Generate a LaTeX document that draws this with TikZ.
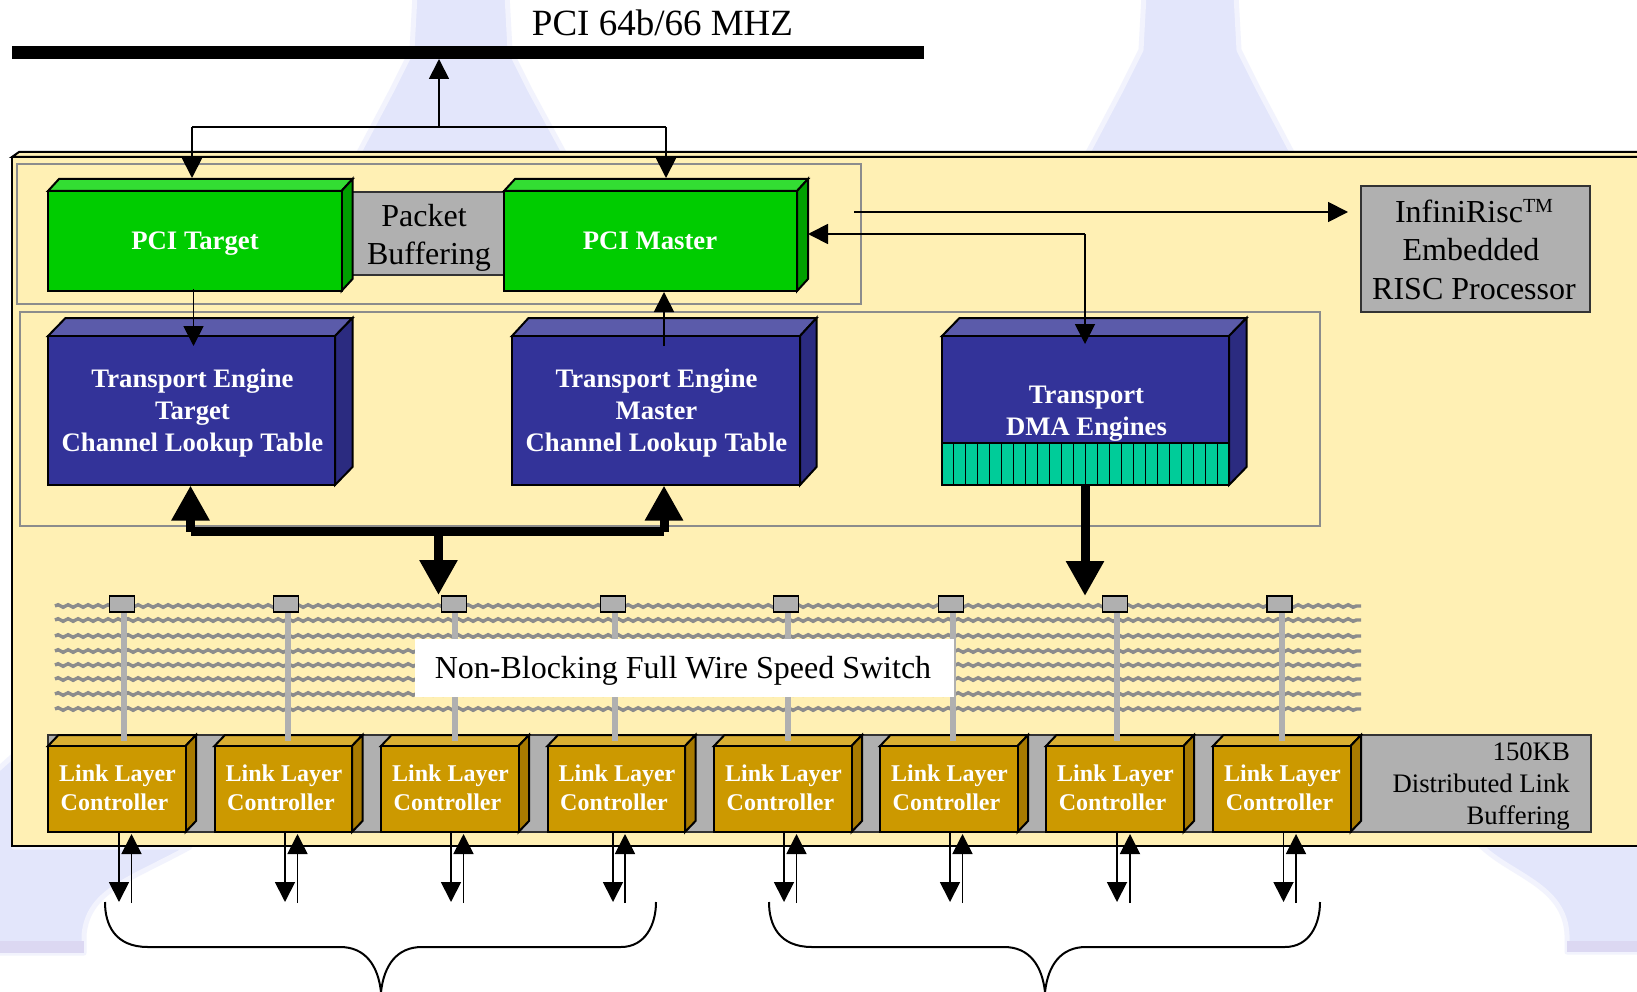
\documentclass[tikz,border=0pt]{standalone}
\usepackage{fontspec}
\setmainfont{Liberation Serif}
\usetikzlibrary{arrows.meta,decorations.pathmorphing,calc}
\definecolor{boardyellow}{HTML}{FFF0B4}
\definecolor{wmark}{HTML}{E3E6FB}
\definecolor{wmarkedge}{HTML}{F2F3FD}
\definecolor{wmarkdark}{HTML}{DCD8F2}
\definecolor{framegray}{HTML}{8C8C8C}
\definecolor{fillgray}{HTML}{B0B0B0}
\definecolor{gfront}{HTML}{00CC00}
\definecolor{gtop}{HTML}{33DD33}
\definecolor{gside}{HTML}{00A000}
\definecolor{bfront}{HTML}{333399}
\definecolor{btop}{HTML}{5B5BAA}
\definecolor{bside}{HTML}{2B2B80}
\definecolor{ofront}{HTML}{CC9900}
\definecolor{otop}{HTML}{D9AE33}
\definecolor{oside}{HTML}{A87A00}
\definecolor{teal}{HTML}{00CC99}
\tikzset{
  frontbox/.style={draw=black,line width=2pt,inner sep=0pt,outer sep=0pt,anchor=north west},
  framebox/.style={draw=framegray,line width=2pt},
  graybox/.style={draw=black!80,line width=2pt,fill=fillgray,inner sep=0pt,outer sep=0pt,anchor=north west},
  plaintext/.style={inner sep=0pt,anchor=base,align=center,font=\fontsize{32}{38.5}\selectfont},
  whitetext/.style={inner sep=0pt,anchor=base,align=center,text=white,font=\fontsize{26.7}{32}\selectfont\bfseries},
  linktext/.style={inner sep=0pt,anchor=base,align=center,text=white,font=\fontsize{24}{29}\selectfont\bfseries},
  thin arrow/.style={line width=1.8pt,-{Triangle[width=20pt,length=20pt]}},
  both line/.style={line width=1.8pt},
  fat arrow/.style={line width=9pt,-{Triangle[width=36pt,length=35pt]}},
  wirecore/.style={draw=framegray!85!white,line width=2.4pt},
  wire/.style={draw=framegray,line width=3.4pt,decorate,decoration={snake,segment length=10pt,amplitude=1.3pt}},
  port/.style={draw=black,line width=1.8pt,fill=fillgray,inner sep=0pt,outer sep=0pt,minimum width=25pt,minimum height=16pt},
  tap/.style={draw=fillgray,line width=6pt},
  bracepath/.style={line width=2pt,line join=round},
  wm/.style={fill=wmark,draw=wmarkedge,line width=5pt,line join=round}
}
\newcommand{\solidbox}[9]{% name,l,t,w,h,dx,dy,unused,colour prefix
  \filldraw[#9top,draw=black,line width=2pt] (#2,#3) -- ++(#6,-#7) -- ++(#4,0) -- ++(-#6,#7) -- cycle;
  \filldraw[#9side,draw=black,line width=2pt] (#2+#4,#3) -- ++(#6,-#7) -- ++(0,#5) -- ++(-#6,#7) -- cycle;
  \node[frontbox,fill=#9front,minimum width=#4pt,minimum height=#5pt] (#1) at (#2,#3) {};
}
\begin{document}
\begin{tikzpicture}[x=1pt,y=-1pt]
\useasboundingbox (0,0) rectangle (1637,992);
\clip (0,0) rectangle (1637,992);
\fill[white] (0,0) rectangle (1637,992);
% watermark
\path[wm] (415,-5) -- (507,-5) -- (510,50) -- (530,90) -- (568,160) -- (355,160) -- (392,90) -- (412,50) -- cycle;
\path[wm] (1144,-5) -- (1236,-5) -- (1239,50) -- (1259,90) -- (1296,160) -- (1084,160) -- (1121,90) -- (1141,50) -- cycle;
\path[wm] (-5,772) -- (14,755) -- (14,847) -- (190,847) .. controls (130,880) and (88,890) .. (84,935) -- (84,953) -- (-5,953) -- cycle;
\fill[wmarkdark] (-5,941) rectangle (84,953);
\path[wm] (1480,845) -- (1645,845) -- (1645,952) -- (1567,952) -- (1567,935) .. controls (1565,885) and (1510,875) .. (1480,845) -- cycle;
\fill[wmarkdark] (1567,941) rectangle (1645,952);
% board
\filldraw[boardyellow,draw=black,line width=2pt] (12,157) -- (19,152) -- (1650,152) -- (1650,157) -- cycle;
\filldraw[boardyellow,draw=black,line width=2pt] (12,157) rectangle (1650,846);
\draw[framebox] (17,164) rectangle (861,304);
\draw[framebox] (19.5,312) rectangle (1320,525.5);
% bus
\node[fill=black,inner sep=0pt,outer sep=0pt,minimum width=912pt,minimum height=13pt,anchor=north west] (pcibus) at (12,46) {};
\node[plaintext,font=\fontsize{37}{42}\selectfont] (pcilabel) at (662.5,36) {PCI 64b/66 MHZ};
% PCI row
\node[graybox,minimum width=152pt,minimum height=83pt] (packet) at (352,192) {};
\node[plaintext] (packettext) at (429,265) {Packet\hspace*{10pt}\\Buffering};
\solidbox{pcitarget}{48}{191}{293.5}{100}{11}{12}{}{g}
\solidbox{pcimaster}{504}{191}{293}{100}{11}{12}{}{g}
\node[whitetext] (pcitargettext) at (195,249.5) {PCI Target};
\node[whitetext] (pcimastertext) at (650,249.5) {PCI Master};
% transport row
\solidbox{te1}{48}{336}{287}{149}{17.5}{18}{}{b}
\solidbox{te2}{512}{336}{288}{149}{16.5}{18}{}{b}
\solidbox{te3}{942}{336}{287}{149}{17.5}{18}{}{b}
\node[frontbox,fill=teal,minimum width=287pt,minimum height=42pt] (dmaband) at (942,443) {};
\foreach \i in {1,...,23} \draw[black,line width=1pt] (942+\i*11.96,443) -- (942+\i*11.96,485);
\node[whitetext] (te1text) at (192.5,451) {Transport Engine\\Target\\Channel Lookup Table};
\node[whitetext] (te2text) at (656.5,451) {Transport Engine\\Master\\Channel Lookup Table};
\node[whitetext] (te3text) at (1086.5,435) {Transport\\DMA Engines};
% InfiniRisc
\node[graybox,minimum width=229pt,minimum height=126pt] (infini) at (1361,186) {};
\node[plaintext] (infinitext) at (1474,299) {InfiniRisc\raisebox{10pt}{\fontsize{20}{20}\selectfont TM}\\\mbox{Embedded\hspace{6pt}}\\RISC Processor};
% link layer strip
\node[graybox,minimum width=1543pt,minimum height=97pt] (strip) at (48,735) {};
\node[inner sep=0pt,anchor=base east,align=right,font=\fontsize{26.7}{32}\selectfont] (striptext) at (1570,824) {150KB\\Distributed Link\\Buffering};
% switch wires
\foreach \y in {606,620,636,651,665,679,694,709} {
  \draw[wirecore] (55,\y) -- (1361,\y);
  \draw[wire] (55,\y) -- (1361,\y);
}
% link controllers, taps, ports
\foreach \n/\l/\t/\p in {1/48/124/122,2/214.5/288/286,3/381/455/454,4/547.5/615/613,5/714/788/786,6/880/953/951,7/1046/1117/1115,8/1213/1282/1279.5}{
  \solidbox{llc\n}{\l}{746}{137.5}{86}{10.5}{11}{}{o}
  \node[linktext] (llc\n text) at (\l+69.5,810) {Link Layer\\Controller\hspace*{6pt}};
  \coordinate (tapend\n) at (\t,741);
  \coordinate (tapstart\n) at (\t,612);
  \draw[tap] (tapstart\n) -- (tapend\n);
  \node[port] (port\n) at (\p,604) {};
}
% switch label
\node[fill=white,inner sep=0pt,outer sep=0pt,minimum width=539pt,minimum height=58pt,anchor=north west] (switchbg) at (415,639) {};
\node[plaintext] (switchtext) at (683,678.5) {Non-Blocking Full Wire Speed Switch};
% connectors
\coordinate (busjoin) at (439,127);
\coordinate (tjoin) at (192,127);
\coordinate (mjoin) at (666,127);
\coordinate (ttip) at (192,178);
\coordinate (mtip) at (666,178);
\draw[thin arrow] (busjoin) -- (busjoin |- pcibus.south);
\draw[both line] (tjoin) -- (mjoin);
\draw[thin arrow] (tjoin) -- (ttip);
\draw[thin arrow] (mjoin) -- (mtip);
\coordinate (tdownstart) at (193.5,289);
\coordinate (tdownend) at (193.5,346);
\draw[thin arrow] (tdownstart) -- (tdownend);
\coordinate (mupstart) at (664,346);
\coordinate (mupend) at (664,292);
\draw[thin arrow] (mupstart) -- (mupend);
\coordinate (riscstart) at (854,212);
\coordinate (riscend) at (1348,212);
\draw[thin arrow] (riscstart) -- (riscend);
\coordinate (dmaturn) at (1085,234);
\coordinate (mastertip) at (808,234);
\coordinate (dmatip) at (1085,344);
\draw[thin arrow] (dmaturn) -- (mastertip);
\draw[thin arrow] (dmaturn) -- (dmatip);
% fat arrows
\coordinate (fatl) at (190.5,531.5);
\coordinate (fatr) at (664,531.5);
\coordinate (fatm) at (438.5,531);
\coordinate (fatlbar) at (190.5,531.2);
\coordinate (fatrbar) at (664,531.2);
\coordinate (fatltip) at (190.5,485.5);
\coordinate (fatrtip) at (664,485.5);
\coordinate (fatmtip) at (438.5,595);
\coordinate (dmastart) at (1085,486);
\coordinate (dmaend) at (1085,596);
\draw[line width=9pt] (fatlbar) -- (fatrbar);
\draw[fat arrow] (fatl) -- (fatltip);
\draw[fat arrow] (fatr) -- (fatrtip);
\draw[fat arrow] (fatm) -- (fatmtip);
\draw[fat arrow] (dmastart) -- (dmaend);
% link arrows
\foreach \n/\d/\u in {1/119/131.5,2/285/297.5,3/451/463.5,4/613/625,5/784/796.5,6/950/962.5,7/1117/1130,8/1283.5/1296}{
  \coordinate (dn\n) at (\d,831);
  \coordinate (dt\n) at (\d,902);
  \coordinate (us\n) at (\u,903);
  \coordinate (ut\n) at (\u,834);
  \draw[thin arrow] (dn\n) -- (dt\n);
  \draw[thin arrow] (us\n) -- (ut\n);
}
% braces
\draw[bracepath] (105,902) .. controls (105,925) and (115,947) .. (148,947) -- (340,947) .. controls (365,947) and (378,965) .. (381,992) .. controls (384,965) and (397,947) .. (422,947) -- (621,947) .. controls (645,947) and (656,925) .. (656,902);
\draw[bracepath] (769,902) .. controls (769,925) and (779,947) .. (812,947) -- (1004,947) .. controls (1029,947) and (1042,965) .. (1045,992) .. controls (1048,965) and (1061,947) .. (1086,947) -- (1285,947) .. controls (1309,947) and (1320,925) .. (1320,902);
\end{tikzpicture}
\end{document}
